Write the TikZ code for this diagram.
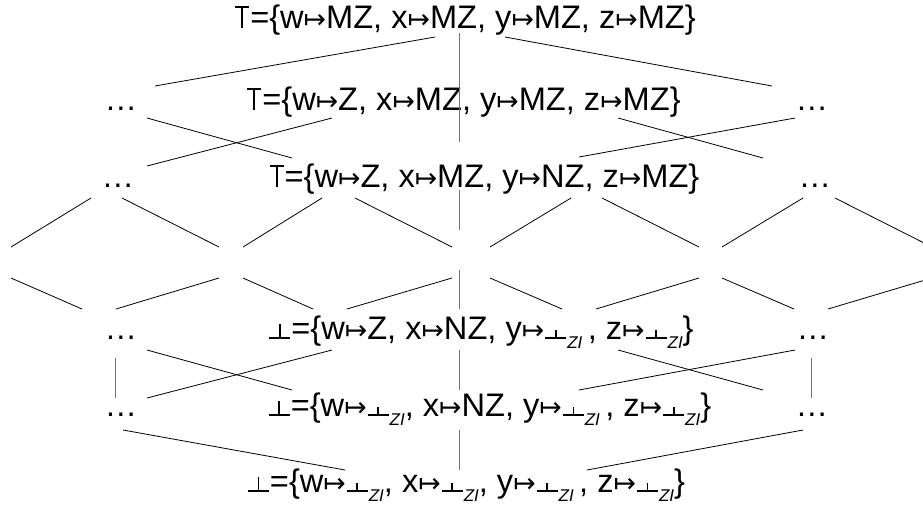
\documentclass[tikz,border=0pt]{standalone}
\usepackage{fontspec}
\usepackage{graphicx}
\setmainfont{Liberation Sans}
\newfontfamily\arrfont[Scale=0.82]{DejaVu Sans}
\usetikzlibrary{calc}

% Zeichen
\newlength\stk \setlength\stk{1.7pt}
\newcommand\tglyph[2]{\hbox{\kern1pt\rlap{\raisebox{\dimexpr#2-\stk\relax}{\rule{#1}{\stk}}}%
  \kern\dimexpr(#1-\stk)/2\relax\rule{\stk}{#2}\kern\dimexpr(#1-\stk)/2\relax\kern1pt}}
\newcommand\bglyph[2]{\hbox{\kern1pt\rlap{\rule{#1}{\stk}}%
  \kern\dimexpr(#1-\stk)/2\relax\rule{\stk}{#2}\kern\dimexpr(#1-\stk)/2\relax\kern1pt}}
\newcommand\mapsarr{{\arrfont ↦}}
\newcommand\topsym{\tglyph{14pt}{22pt}}
\newcommand\botsym{\bglyph{21pt}{15pt}}
\newcommand\botzi{\bglyph{21pt}{9pt}\raisebox{-9pt}{\fontsize{17}{17}\selectfont\itshape ZI}}

\begin{document}
\begin{tikzpicture}[
      x=1pt, y=-1pt,
      lbl/.style={anchor=base, inner sep=0pt, font=\fontsize{32.6}{38}\selectfont}, % Beschriftung
      edge/.style={black, line width=0.8pt}, % schraege Kanten
      vedge/.style={black!55, line width=1pt}, % senkrechte Kanten
    ]
    \useasboundingbox (0,0) rectangle (923,504);
    \clip (0,0) rectangle (923,504);

    % Obere Elemente
    \node[lbl] (top) at (465,28) {\topsym=\{w\mapsarr MZ, x\mapsarr MZ, y\mapsarr MZ, z\mapsarr MZ\}};
    \node[lbl] (t2) at (463.5,110) {\topsym=\{w\mapsarr Z, x\mapsarr MZ, y\mapsarr MZ, z\mapsarr MZ\}};
    \node[lbl] (t3) at (484,187) {\topsym=\{w\mapsarr Z, x\mapsarr MZ, y\mapsarr NZ, z\mapsarr MZ\}};

    % Untere Elemente
    \node[lbl] (b4) at (481,339) {\botsym=\{w\mapsarr Z, x\mapsarr NZ, y\mapsarr\botzi\,, z\mapsarr\botzi\}};
    \node[lbl] (b5) at (489.5,416) {\botsym=\{w\mapsarr\botzi, x\mapsarr NZ, y\mapsarr\botzi\,, z\mapsarr\botzi\}};
    \node[lbl] (bot) at (466,492) {\botsym=\{w\mapsarr\botzi, x\mapsarr\botzi, y\mapsarr\botzi\,, z\mapsarr\botzi\}};

    % Auslassungen
    \foreach \n/\x/\y in {dl2/121/110, dr2/812/110, dl3/118/187, dr3/815/187,
                          dl4/121/339, dr4/813/339, dl5/121/416, dr5/812/416}
    \node[lbl] (\n) at (\x,\y) {…};

    % Kanten (schraeg)
    \foreach \i/\xa/\ya/\xb/\yb in {
        1/155/86/435/37, 2/505/37/772/86,
        3/147/118/292/158, 4/147/166/332/118, 5/618/118/763/158, 6/795/118/579/157,
        7/91/198/11/247, 8/122/198/219/247, 9/322/198/243/247, 10/355/198/452/247,
        11/571/198/490/247, 12/602/198/699/247, 13/803/198/722/247, 14/835/198/932/247,
        15/11/278/82/309, 16/219/278/116/309, 17/243/278/313/309, 18/452/278/347/309,
        19/490/278/562/309, 20/699/278/596/309, 21/722/278/794/309, 22/932/278/828/309,
        23/147/350/292/390, 24/147/398/332/350, 25/618/350/763/390, 26/795/350/579/390,
        27/123/430/345/470, 28/803/430/587/470}
    {
      \coordinate (s\i) at (\xa,\ya);
      \coordinate (e\i) at (\xb,\yb);
      \draw[edge] (s\i) -- (e\i);
    }

    % Kanten (senkrecht)
    \foreach \i/\xa/\ya/\xb/\yb in {
        1/459/33/459/142, 2/459/190/459/230, 3/459/270/459/309,
        4/115/358/115/398, 5/459/350/459/390, 6/811/358/811/398, 7/459/430/459/470}
    {
      \coordinate (vs\i) at (\xa,\ya);
      \coordinate (ve\i) at (\xb,\yb);
      \draw[vedge] (vs\i) -- (ve\i);
    }
  \end{tikzpicture}
\end{document}
